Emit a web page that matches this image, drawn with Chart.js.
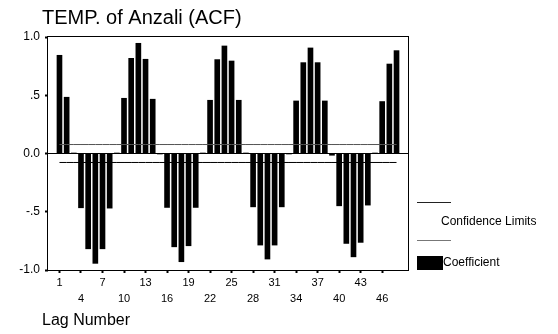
<!DOCTYPE html>
<html>
<head>
<meta charset="utf-8">
<title>TEMP. of Anzali (ACF)</title>
<script src="https://cdn.jsdelivr.net/npm/chart.js@4/dist/chart.umd.min.js"></script>
<style>
  html, body { margin: 0; padding: 0; background: #ffffff; }
  #acf { display: block; }
</style>
</head>
<body>
<canvas id="acf" width="558" height="334"></canvas>
<script>
// Autocorrelation coefficients of monthly temperature, lags 1..48
const lags = [
   1,  2,  3,  4,  5,  6,  7,  8,  9, 10, 11, 12,
  13, 14, 15, 16, 17, 18, 19, 20, 21, 22, 23, 24,
  25, 26, 27, 28, 29, 30, 31, 32, 33, 34, 35, 36,
  37, 38, 39, 40, 41, 42, 43, 44, 45, 46, 47, 48
];
const acf = [
   0.843,  0.483,  0.002, -0.466, -0.818, -0.943, -0.818, -0.469,  0.002,  0.474,  0.817,  0.946,
   0.809,  0.466, -0.002, -0.463, -0.801, -0.929, -0.792, -0.463,  0.002,  0.457,  0.806,  0.923,
   0.794,  0.457,  0.001, -0.458, -0.786, -0.906, -0.786, -0.458, -0.003,  0.451,  0.780,  0.906,
   0.780,  0.451, -0.015, -0.449, -0.772, -0.887, -0.763, -0.443,  0.001,  0.446,  0.768,  0.883
];
// Upper / lower confidence limit (±2 standard errors)
const confUpper = 0.077;
const confLower = -0.077;

// Axis ticks
const xTickValues = [1, 4, 7, 10, 13, 16, 19, 22, 25, 28, 31, 34, 37, 40, 43, 46];
const yTickValues = [-1, -0.5, 0, 0.5, 1];
const yTickLabels = ['-1.0', '-.5', '0.0', '.5', '1.0'];

const titleText = 'TEMP. of Anzali (ACF)';
const xAxisTitle = 'Lag Number';
const legendLabels = ['Confidence Limits', 'Coefficient'];

const FONT = '"Liberation Sans", Arial, sans-serif';

// Frame, title, axis title and legend
const decorations = {
  id: 'decorations',
  afterDraw(chart) {
    const ctx = chart.ctx;
    const a = chart.chartArea;
    ctx.save();
    // plot frame
    ctx.strokeStyle = '#000';
    ctx.lineWidth = 1;
    ctx.strokeRect(Math.round(a.left) - 0.5, Math.round(a.top) - 0.5,
                   Math.round(a.right - a.left) + 1, Math.round(a.bottom - a.top) + 1);

    ctx.fillStyle = '#000';
    ctx.textBaseline = 'alphabetic';
    ctx.textAlign = 'left';
    ctx.font = '20px ' + FONT;
    ctx.fillText(titleText, 42, 24);

    ctx.font = '16px ' + FONT;
    ctx.fillText(xAxisTitle, 42, 325);

    // legend: confidence limits
    ctx.lineWidth = 1;
    ctx.strokeStyle = '#222';
    ctx.beginPath(); ctx.moveTo(417, 202.5); ctx.lineTo(451, 202.5); ctx.stroke();
    ctx.strokeStyle = '#777';
    ctx.beginPath(); ctx.moveTo(417, 240.5); ctx.lineTo(451, 240.5); ctx.stroke();
    ctx.font = '12px ' + FONT;
    ctx.textBaseline = 'middle';
    ctx.fillText(legendLabels[0], 441, 222);
    // legend: coefficient
    ctx.fillStyle = '#000';
    ctx.fillRect(417, 256, 26, 14);
    ctx.fillText(legendLabels[1], 443, 263);
    ctx.restore();
  }
};

new Chart(document.getElementById('acf'), {
  type: 'bar',
  data: {
    datasets: [
      {
        type: 'line',
        label: 'Upper limit',
        data: lags.map(l => ({ x: l, y: confUpper })),
        borderColor: '#555',
        borderWidth: 1,
        pointRadius: 0,
        fill: false,
        order: 0
      },
      {
        type: 'line',
        label: 'Lower limit',
        data: lags.map(l => ({ x: l, y: confLower })),
        borderColor: '#000',
        borderWidth: 1,
        pointRadius: 0,
        fill: false,
        order: 0
      },
      {
        label: 'Coefficient',
        data: lags.map((l, i) => ({ x: l, y: acf[i] })),
        backgroundColor: '#000',
        borderWidth: 0,
        barThickness: 5,
        order: 1
      }
    ]
  },
  options: {
    responsive: false,
    animation: false,
    devicePixelRatio: 1,
    layout: { padding: { top: 37, right: 150, bottom: 0, left: 0 } },
    plugins: {
      legend: { display: false },
      tooltip: { enabled: false },
      title: { display: false }
    },
    scales: {
      x: {
        type: 'linear',
        offset: false,
        min: -0.6,
        max: 49.6,
        afterFit(scale) { scale.height = 64; },
        afterBuildTicks(scale) { scale.ticks = xTickValues.map(v => ({ value: v })); },
        border: { display: false },
        grid: {
          offset: false,
          drawOnChartArea: false,
          drawTicks: true,
          tickLength: 3,
          tickColor: '#000',
          tickWidth: 2
        },
        ticks: {
          autoSkip: false,
          maxRotation: 0,
          padding: 2,
          color: '#000',
          font: { family: FONT, size: 11, lineHeight: 1.45 },
          callback(value, index) {
            const label = String(value);
            return index % 2 === 0 ? [label, ''] : ['', label];
          }
        }
      },
      y: {
        min: -1,
        max: 1,
        afterFit(scale) { scale.width = 48; },
        afterBuildTicks(scale) { scale.ticks = yTickValues.map(v => ({ value: v })); },
        border: { display: false },
        grid: {
          drawOnChartArea: true,
          color: c => (c.tick && c.tick.value === 0 ? '#000' : 'rgba(0,0,0,0)'),
          lineWidth: 1,
          drawTicks: true,
          tickLength: 3,
          tickColor: '#000',
          tickWidth: 2
        },
        ticks: {
          padding: 5,
          color: '#000',
          font: { family: FONT, size: 12 },
          callback(value) {
            const i = yTickValues.indexOf(value);
            return i >= 0 ? yTickLabels[i] : '';
          }
        }
      }
    }
  },
  plugins: [decorations]
});
</script>
</body>
</html>
